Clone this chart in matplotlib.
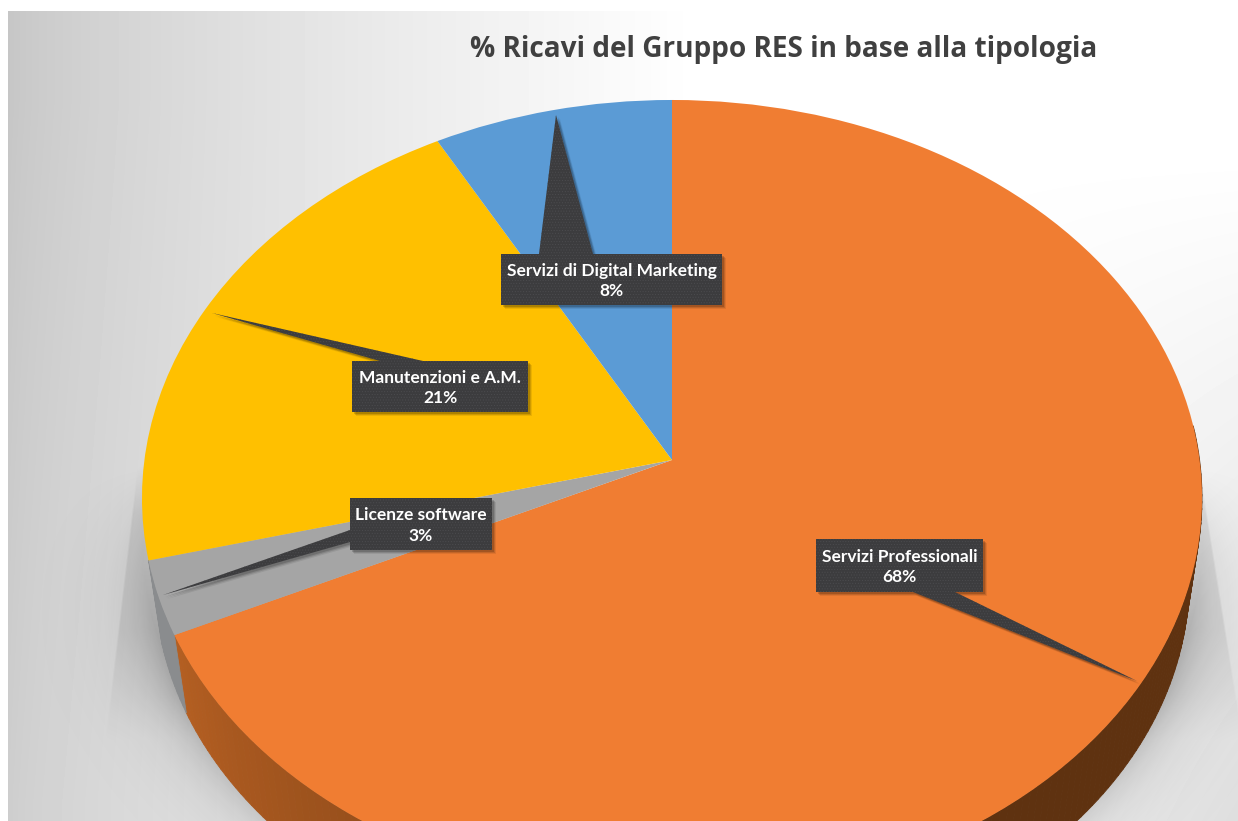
import numpy as np
import matplotlib
matplotlib.use("Agg")
import matplotlib.pyplot as plt
from matplotlib.transforms import Transform
from matplotlib.patches import Polygon, Rectangle
from matplotlib.collections import PolyCollection
from matplotlib.colors import to_rgb

# ---- data ----
categories = ["Servizi Professionali", "Licenze software", "Manutenzioni e A.M.", "Servizi di Digital Marketing"]
shares = [68, 3, 21, 8]
title = "% Ricavi del Gruppo RES in base alla tipologia"

# ---- styles / layout ----
W, H = 1238, 821
colors = ["#F07D32", "#A5A5A5", "#FFC000", "#5B9BD5"]
CX, CY, SX, SY, K = 672.0, 460.0, 527.6, 394.4, 0.0955
WALL_S, WALL_DY = 0.976, 82.0
boxes = {  # x0, x1, y0, y1, leader polygon: tip + two base points
    0: (816, 983, 539, 592, [(1137, 681), (955, 592), (913, 592)]),
    1: (350, 492, 498, 550, [(163, 595), (350, 530), (350, 542)]),
    2: (352, 528, 361, 412, [(212, 313), (423, 361), (380, 361)]),
    3: (501, 722, 254, 305, [(556, 115), (593, 254), (539, 254)]),
}
BOX = "#3C3C3E"
plt.rcParams["hatch.linewidth"] = 0.4

class Perspective(Transform):
    input_dims = output_dims = 2
    is_separable = False
    has_inverse = False
    def transform_non_affine(self, v):
        v = np.asarray(v, float)
        d = 1 + K * v[:, 1]
        return np.column_stack([CX + SX * v[:, 0] / d, CY - SY * v[:, 1] / d])

persp = Perspective()

fig = plt.figure(figsize=(W / 100, H / 100), dpi=100, facecolor="white")
ax = fig.add_axes([0, 0, 1, 1])

# background gradient
yy, xx = np.mgrid[11:H, 8:W]
g = 0.775 + 0.225 * np.clip((xx - 8) / 690.0, 0, 1) ** 0.75
g = g + 0.03 * np.clip((yy - 100) / 700.0, 0, 1) * np.clip((300 - xx) / 300.0, 0, 1)
g = g - 0.13 * np.clip((xx - 850) / 390.0, 0, 1) * np.clip((yy - 150) / 670.0, 0, 1)
ax.imshow(g, cmap="gray", vmin=0, vmax=1, extent=(8, W, H, 11), zorder=0, aspect="auto", interpolation="bilinear")

# soft shadow beneath the pie
ex = (xx - CX) / 530.0
ey = (yy - 540.0) / 400.0
d = np.clip((np.sqrt(ex**2 + ey**2) - 1) * 470.0, 0, None)
ramp = np.clip((yy - 465) / 230.0, 0, 1)
a1 = 0.24 * np.exp(-d / 26.0)
left_edge = 135 - (yy - 480) * 0.118
right_edge = 1200 + (yy - 470) * 0.16
band = np.clip((xx - left_edge) / 2.0, 0, 1) * np.clip((right_edge - xx) / 2.0, 0, 1)
band = band * np.clip((yy - 465) / 50.0, 0, 1) * np.clip((740 - yy) / 110.0, 0, 1)
alpha = a1 * ramp + 0.07 * band
rgba = np.zeros(alpha.shape + (4,))
rgba[..., 3] = alpha
ax.imshow(rgba, extent=(8, W, H, 11), zorder=1, aspect="auto", interpolation="bilinear")

# side wall, from the slice angles (only the part facing the viewer)
bounds = np.cumsum([0] + shares) / sum(shares) * 2 * np.pi
polys, fc = [], []
dark, light = np.array(to_rgb("#5F3210")), np.array(to_rgb("#B55F22"))
for i in (0, 1):
    start = max(bounds[i], np.radians(85.0))
    angs = np.append(np.arange(start, bounds[i + 1], np.radians(1.0)), bounds[i + 1])
    for a0, a1_ in zip(angs[:-1], angs[1:]):
        rim = persp.transform_non_affine(np.array([[np.sin(a0), np.cos(a0)], [np.sin(a1_), np.cos(a1_)]]))
        low = np.column_stack([CX + WALL_S * (rim[:, 0] - CX), CY + WALL_S * (rim[:, 1] - CY) + WALL_DY])
        polys.append(np.vstack([rim, low[::-1]]))
        if i == 0:
            t = np.clip((np.degrees(a0) - 150) / 95.0, 0, 1)
            fc.append(dark + (light - dark) * t)
        else:
            fc.append(to_rgb("#8A8C8E"))
ax.add_collection(PolyCollection(polys, facecolors=fc, edgecolors=fc, linewidths=0.6, zorder=2))

# top face
wedges, _ = ax.pie(shares, colors=colors, startangle=90, counterclock=False, radius=1.0,
                   wedgeprops=dict(linewidth=0))
for w in wedges:
    w.set_transform(persp + ax.transData)
    w.set_zorder(3)
ax.set_aspect("auto")
ax.set_xlim(0, W)
ax.set_ylim(H, 0)
ax.axis("off")

# callout labels
for i, (x0, x1, y0, y1, leader) in boxes.items():
    for off, al in ((4, 0.08), (3, 0.12), (2, 0.16)):
        ax.add_patch(Polygon([(p[0] + off, p[1] + off) for p in leader], closed=True, fc="k", ec="none", alpha=al, zorder=4))
        ax.add_patch(Rectangle((x0 + off, y0 + off), x1 - x0, y1 - y0, fc="k", ec="none", alpha=al, zorder=4))
    ax.add_patch(Polygon(leader, closed=True, fc=BOX, ec="#4C4C4F", lw=0, hatch="......", zorder=5))
    ax.add_patch(Rectangle((x0, y0), x1 - x0, y1 - y0, fc=BOX, ec="#4C4C4F", lw=0, hatch="......", zorder=5))
    ax.text((x0 + x1) / 2, (y0 + y1) / 2 + 1.5, f"{categories[i]}\n{shares[i]}%", color="white", ha="center", va="center",
            family="Lato", weight="bold", fontsize=12.5, linespacing=1.38, zorder=6)

ax.text(784, 50, title, color="#404040", ha="center", va="center", family="Open Sans", weight="bold", fontsize=20.2, zorder=6)

fig.savefig("out.png", dpi=100, facecolor="white")
